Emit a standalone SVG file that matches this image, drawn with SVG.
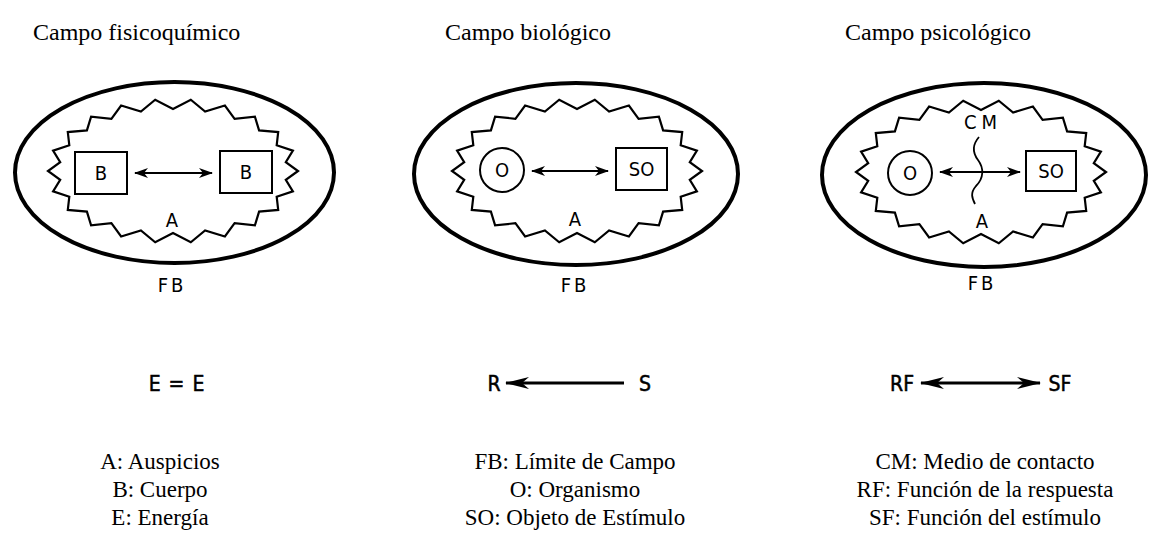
<svg xmlns="http://www.w3.org/2000/svg" width="1170" height="548" viewBox="0 0 1170 548">
<style>
.title{font-family:"Liberation Serif","Times New Roman",serif;font-size:24px;fill:#000}
.leg{font-family:"Liberation Serif","Times New Roman",serif;font-size:23px;fill:#000;text-anchor:middle}
.lbl{font-family:"DejaVu Sans Condensed","DejaVu Sans","Liberation Sans",sans-serif;font-size:20px;fill:#000;text-anchor:middle}
.big{font-family:"DejaVu Sans Condensed","DejaVu Sans","Liberation Sans",sans-serif;font-size:20px;fill:#000;text-anchor:middle}
.frm{font-family:"DejaVu Sans Condensed","DejaVu Sans","Liberation Sans",sans-serif;font-size:21px;fill:#000;stroke:#000;stroke-width:0.5;text-anchor:middle}
.fb{fill:none;stroke:#000;stroke-width:4}
.zig{fill:none;stroke:#000;stroke-width:2.2;stroke-linejoin:miter}
.box{fill:none;stroke:#000;stroke-width:2}
.conn{fill:none;stroke:#000;stroke-width:1.8}
.conn2{fill:none;stroke:#000;stroke-width:3}
</style>
<defs>
<path id="zz" d="M125,0 L112.8,8.8 L119.9,20.3 L103.7,25.8 L105.2,38.9 L86.1,40.6 L81.9,54.4 L61.6,52.2 L51.9,65.5 L32.1,59.5 L17.8,71.3 L0,62 L-17.8,71.3 L-32.1,59.5 L-51.9,65.5 L-61.6,52.2 L-81.9,54.4 L-86.1,40.6 L-105.2,38.9 L-103.7,25.8 L-119.9,20.3 L-112.8,8.8 L-125,0 L-112.8,-8.8 L-119.9,-20.3 L-103.7,-25.8 L-105.2,-38.9 L-86.1,-40.6 L-81.9,-54.4 L-61.6,-52.2 L-51.9,-65.5 L-32.1,-59.5 L-17.8,-71.3 L0,-62 L17.8,-71.3 L32.1,-59.5 L51.9,-65.5 L61.6,-52.2 L81.9,-54.4 L86.1,-40.6 L105.2,-38.9 L103.7,-25.8 L119.9,-20.3 L112.8,-8.8 Z"/>
<marker id="ah" viewBox="0 0 14 10" refX="13" refY="5" markerWidth="14" markerHeight="10" markerUnits="userSpaceOnUse" orient="auto-start-reverse">
<path d="M0,0 L14,5 L0,10 L4,5 Z" fill="#000"/>
</marker>
<marker id="ah2" viewBox="0 0 24 12" refX="23" refY="6" markerWidth="24" markerHeight="12" markerUnits="userSpaceOnUse" orient="auto-start-reverse">
<path d="M0,0 L24,6 L0,12 L7,6 Z" fill="#000"/>
</marker>
</defs>

<g id="titles">
<text class="title" x="33" y="40">Campo fisicoquímico</text>
<text class="title" x="445" y="40">Campo biológico</text>
<text class="title" x="845" y="40">Campo psicológico</text>
</g>

<g id="panel1">
<ellipse class="fb" cx="174.5" cy="172.5" rx="159.5" ry="90.5"/>
<use href="#zz" class="zig" transform="translate(173,171)"/>
<rect class="box" x="75" y="152" width="52" height="42"/>
<text class="big" x="101" y="180">B</text>
<rect class="box" x="220" y="151" width="52" height="42"/>
<text class="big" x="246" y="179">B</text>
<text class="lbl" x="172" y="227">A</text>
<text class="lbl" x="172" y="292" letter-spacing="3">FB</text>
</g>

<g id="panel2">
<ellipse class="fb" cx="576" cy="174" rx="162" ry="91"/>
<use href="#zz" class="zig" transform="translate(577,171)"/>
<circle class="box" cx="502" cy="170" r="22"/>
<text class="big" x="502" y="177">O</text>
<rect class="box" x="616" y="148" width="51" height="42"/>
<text class="big" x="641.5" y="176">SO</text>
<text class="lbl" x="575" y="226">A</text>
<text class="lbl" x="575" y="292" letter-spacing="3">FB</text>
</g>

<g id="panel3">
<ellipse class="fb" cx="984" cy="175" rx="162" ry="92"/>
<use href="#zz" class="zig" transform="translate(981,172)"/>
<circle class="box" cx="910" cy="173" r="22"/>
<text class="big" x="910" y="180">O</text>
<rect class="box" x="1026" y="151" width="50" height="40"/>
<text class="big" x="1051" y="178">SO</text>
<text class="lbl" x="983" y="129" letter-spacing="5">CM</text>
<path class="conn" d="M979,137 C972,145 972,152 978,160 C984,168 984,178 976,186 C970,193 972,198 975,204"/>
<text class="lbl" x="982" y="228">A</text>
<text class="lbl" x="982" y="290" letter-spacing="3">FB</text>
</g>

<g id="formulas">
<text class="frm" x="177" y="391" letter-spacing="1">E = E</text>
<text class="frm" x="494" y="391">R</text>
<text class="frm" x="645" y="391">S</text>
<text class="frm" x="902" y="391">RF</text>
<text class="frm" x="1060" y="391">SF</text>
</g>

<g id="connectors">
<line class="conn" x1="135" y1="173" x2="212" y2="173" marker-start="url(#ah)" marker-end="url(#ah)"/>
<line class="conn" x1="532" y1="171" x2="608" y2="171" marker-start="url(#ah)" marker-end="url(#ah)"/>
<line class="conn" x1="940" y1="172" x2="1020" y2="172" marker-start="url(#ah)" marker-end="url(#ah)"/>
<line class="conn2" x1="624" y1="383" x2="506" y2="383" marker-end="url(#ah2)"/>
<line class="conn2" x1="921" y1="383" x2="1040" y2="383" marker-start="url(#ah2)" marker-end="url(#ah2)"/>
</g>

<g id="legend">
<text class="leg" x="160" y="469">A: Auspicios</text>
<text class="leg" x="160" y="497">B: Cuerpo</text>
<text class="leg" x="160" y="525">E: Energía</text>
<text class="leg" x="575" y="469">FB: Límite de Campo</text>
<text class="leg" x="575" y="497">O: Organismo</text>
<text class="leg" x="575" y="525">SO: Objeto de Estímulo</text>
<text class="leg" x="985" y="469">CM: Medio de contacto</text>
<text class="leg" x="985" y="497">RF: Función de la respuesta</text>
<text class="leg" x="985" y="525">SF: Función del estímulo</text>
</g>
</svg>
